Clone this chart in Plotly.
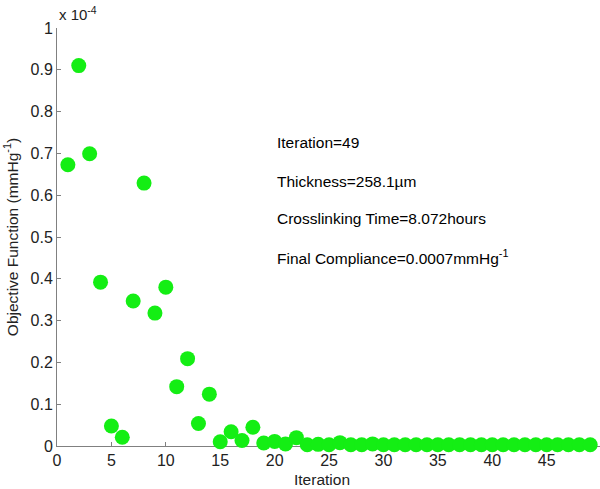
import plotly.graph_objects as go

iterations = list(range(1, 50))
objective = [0.673, 0.910, 0.699, 0.392, 0.048, 0.021, 0.347, 0.629, 0.318, 0.380,
             0.142, 0.209, 0.054, 0.124, 0.010, 0.034, 0.013, 0.045, 0.007, 0.011,
             0.005, 0.020, 0.003, 0.004, 0.003, 0.008, 0.003, 0.003, 0.005, 0.003,
             0.003, 0.003, 0.003, 0.003, 0.003, 0.003, 0.003, 0.003, 0.003, 0.003,
             0.003, 0.003, 0.003, 0.003, 0.003, 0.003, 0.003, 0.003, 0.003]

x_ticks = [0, 5, 10, 15, 20, 25, 30, 35, 40, 45]
y_ticks = [0, 0.1, 0.2, 0.3, 0.4, 0.5, 0.6, 0.7, 0.8, 0.9, 1]
y_tick_text = ["0", "0.1", "0.2", "0.3", "0.4", "0.5", "0.6", "0.7", "0.8", "0.9", "1"]

info_lines = ["Iteration=49", "Thickness=258.1\u00b5m", "Crosslinking Time=8.072hours",
              "Final Compliance=0.0007mmHg<sup>-1</sup>"]

FONT = "Liberation Sans, Arial, sans-serif"

fig = go.Figure()
fig.add_trace(go.Scatter(
    x=iterations, y=objective, mode="markers",
    marker=dict(size=15, color="#14ee14", line=dict(width=0)),
    cliponaxis=False, showlegend=False,
))

W, H = 600, 489
L, R, T, B = 57, 0, 28, 43
pw = W - L - R
ph = H - T - B

fig.update_layout(
    width=W, height=H,
    margin=dict(l=L, r=R, t=T, b=B, pad=0),
    paper_bgcolor="white", plot_bgcolor="white",
    font=dict(family=FONT, color="#222222"),
    xaxis=dict(
        range=[0, 49.9], tickvals=x_ticks, ticks="inside", ticklen=4,
        tickcolor="#808080", showline=True, linecolor="#808080", linewidth=1,
        showgrid=False, zeroline=False, layer="below traces", automargin=False,
        tickfont=dict(size=16, color="#222222"),
    ),
    yaxis=dict(
        range=[0, 1], tickvals=y_ticks, ticktext=y_tick_text, ticks="inside", ticklen=4,
        tickcolor="#808080", showline=True, linecolor="#808080", linewidth=1,
        showgrid=False, zeroline=False, layer="below traces", automargin=False,
        tickfont=dict(size=16, color="#222222"),
        title=dict(text="Objective Function (mmHg<sup>-1</sup>)",
                   font=dict(size=15.5, color="#222222"), standoff=8),
    ),
)

# x-axis title
fig.add_annotation(
    xref="paper", yref="paper", x=(322 - L) / pw, y=0, xanchor="center", yanchor="top",
    yshift=-23, showarrow=False, text="Iteration",
    font=dict(size=15.5, color="#222222", family=FONT),
)

# exponent label
fig.add_annotation(
    xref="paper", yref="paper", x=0, y=1, xanchor="left", yanchor="bottom",
    yshift=3, showarrow=False, text="x 10<sup>-4</sup>",
    font=dict(size=15, color="#222222", family=FONT),
)

info_y_px = [142.7, 181.7, 218.5, 256.5]
for txt, ypx in zip(info_lines, info_y_px):
    fig.add_annotation(
        xref="paper", yref="paper",
        x=(275 - L) / pw, y=1 - (ypx - T) / ph,
        xanchor="left", yanchor="middle", showarrow=False, text=txt,
        font=dict(size=15.5, color="#000000", family=FONT),
    )

fig.write_html("out.html", config={"displayModeBar": False},
               post_script="document.body.style.margin='0';document.body.style.overflow='hidden';")
